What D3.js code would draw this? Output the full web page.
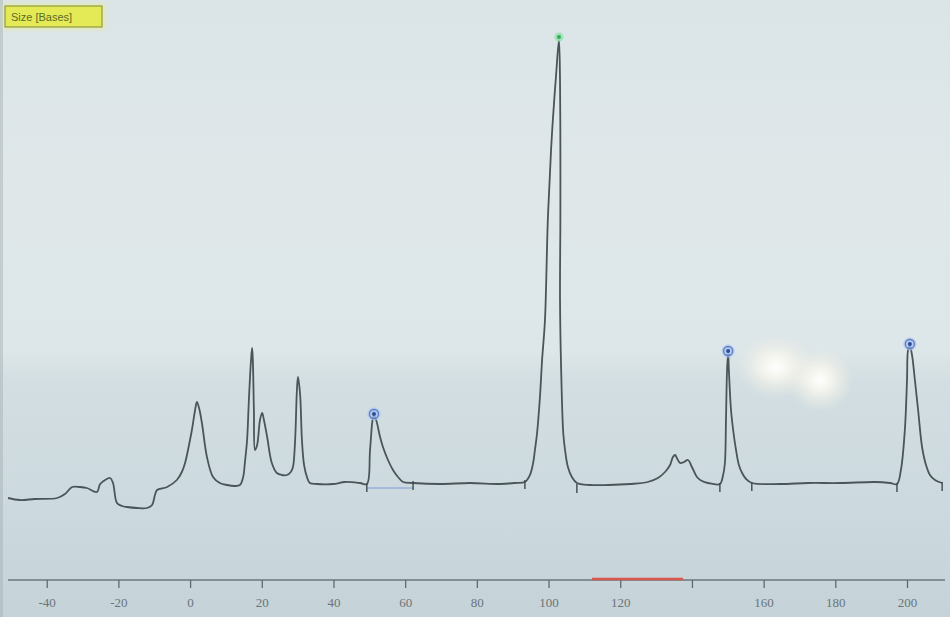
<!DOCTYPE html>
<html>
<head>
<meta charset="utf-8">
<script src="https://cdn.jsdelivr.net/npm/d3@7"></script>
<style>
  html, body { margin: 0; padding: 0; background: #d6e0e4; }
  svg { display: block; }
</style>
</head>
<body>
<svg id="chart" width="950" height="617"></svg>
<script>
// ---- data (size in bases, signal in relative units) ----
const traceSize = [-50.8,-47.5,-43.3,-37.1,-34.9,-32.9,-30.7,-28.8,-26.0,-25.1,-23.7,-22.3,-21.5,-20.4,-19.0,-17.6,-14.8,-12.0,-10.6,-9.8,-9.2,-6.4,-3.7,-2.3,-1.4,-0.3,0.5,1.4,1.9,2.5,3.3,4.7,6.4,8.3,10.3,12.5,13.9,14.8,15.3,15.9,16.4,17.0,17.3,17.5,17.8,18.1,18.7,19.5,20.1,20.6,21.5,22.8,24.2,25.6,27.0,28.1,28.7,29.3,29.8,30.1,30.7,31.2,31.8,32.6,33.4,35.4,39.9,43.2,47.4,49.3,50.2,51.0,51.3,51.9,53.0,53.8,55.2,56.6,58.0,59.4,62.2,69.7,78.1,86.5,90.6,93.4,94.8,95.7,96.2,96.8,97.6,98.2,99.0,99.8,100.7,101.2,102.1,102.9,103.2,103.3,103.3,103.2,103.5,104.1,104.6,105.4,106.5,107.9,111.6,116.6,122.7,127.7,130.5,132.5,133.9,134.7,135.3,135.8,136.7,137.8,138.9,140.0,141.4,142.8,144.5,147.8,148.7,149.2,149.5,149.8,150.1,150.3,150.9,151.5,152.3,153.1,154.0,155.1,156.7,164.6,172.4,181.3,191.1,195.3,197.2,198.3,199.4,200.0,200.3,200.8,201.4,202.2,203.1,204.2,205.3,206.4,207.8,209.8];
const traceSignal = [-10,-12,-11,-10,-6,1,1,0,-4,4,8,10,5,-15,-18,-19,-20,-20,-17,-7,-2,1,8,16,25,43,58,78,86,80,65,31,11,5,3,2,3,11,26,48,88,128,140,128,78,38,43,68,75,68,51,25,15,13,13,16,21,48,98,111,93,48,23,11,5,4,4,6,5,4,38,70,72,68,51,41,28,18,11,6,5,4,5,4,5,6,13,25,38,55,91,128,168,268,338,368,413,448,408,338,268,188,121,55,38,21,11,5,3,3,4,6,10,16,23,31,33,30,25,26,28,21,11,7,5,4,13,25,68,118,135,118,78,58,38,23,15,9,5,4,5,5,6,5,4,18,58,108,138,142,133,108,78,41,23,13,8,5];

// called peaks (blue rings) and the largest peak (green)
const peakSize   = [51.3, 150.1, 200.8];
const peakSignal = [74, 137, 144];
const topPeakSize = 102.9, topPeakSignal = 451;

// peak boundary marks
const boundarySize = [49.3, 62.2, 93.4, 107.9, 147.8, 156.7, 197.2, 209.8];
const boundarySignal = [2, 4, 5, 1, 2, 3, 2, 3];

// axis
const tickValues = [-40,-20,0,20,40,60,80,100,120,140,160,180,200];
const tickLabels = ["-40","-20","0","20","40","60","80","100","120","","160","180","200"];
const rangeBar = [112.1, 137.5];
const legendText = "Size [Bases]";

// ---- drawing ----
const svg = d3.select("#chart");
const W = 950, H = 617;

const defs = svg.append("defs");
const bg = defs.append("linearGradient").attr("id","bg").attr("x1",0).attr("y1",0).attr("x2",0).attr("y2",1);
[[0,"#dbe4e7"],[0.3,"#dfe7e9"],[0.57,"#dde6e8"],[0.62,"#d2dee2"],[0.85,"#cbd8dd"],[1,"#c5d2d8"]]
  .forEach(([o,c]) => bg.append("stop").attr("offset",o).attr("stop-color",c));
const glare = defs.append("radialGradient").attr("id","glare");
glare.append("stop").attr("offset",0).attr("stop-color","#ffffff").attr("stop-opacity",1);
glare.append("stop").attr("offset",0.35).attr("stop-color","#fdfaf0").attr("stop-opacity",0.75);
glare.append("stop").attr("offset",1).attr("stop-color","#f2efe2").attr("stop-opacity",0);
const blur = defs.append("filter").attr("id","soft").attr("x","-20%").attr("y","-20%").attr("width","140%").attr("height","140%");
blur.append("feGaussianBlur").attr("stdDeviation",0.5);
const glow = defs.append("filter").attr("id","glow").attr("x","-20%").attr("y","-50%").attr("width","140%").attr("height","200%");
glow.append("feGaussianBlur").attr("stdDeviation",2);

svg.append("rect").attr("width",W).attr("height",H).attr("fill","url(#bg)");
svg.append("rect").attr("x",0).attr("y",0).attr("width",3).attr("height",H).attr("fill","#a7b2b6").attr("opacity",0.5);

// glare spots
svg.append("ellipse").attr("cx",776).attr("cy",367).attr("rx",40).attr("ry",32).attr("fill","url(#glare)");
svg.append("ellipse").attr("cx",820).attr("cy",380).attr("rx",34).attr("ry",32).attr("fill","url(#glare)");

const x = d3.scaleLinear().domain([-50.8, 210.6]).range([8, 945]);
const y = d3.scaleLinear().domain([-60, 470]).range([548, 18]);

// baseline under first called peak
svg.append("line")
  .attr("x1", x(boundarySize[0])).attr("x2", x(boundarySize[1]))
  .attr("y1", y(0)).attr("y2", y(0))
  .attr("stroke","#7f9bd6").attr("stroke-width",1);

// trace
const pts = traceSize.map((s,i) => [s, traceSignal[i]]);
const line = d3.line().x(d => x(d[0])).y(d => y(d[1])).curve(d3.curveCatmullRom.alpha(0.5));
svg.append("path").datum(pts)
  .attr("d", line)
  .attr("fill","none")
  .attr("stroke","#4a5559")
  .attr("stroke-width",1.8)
  .attr("stroke-linejoin","round")
  .attr("filter","url(#soft)");

// boundary marks
svg.selectAll("line.bnd").data(boundarySize).join("line")
  .attr("class","bnd")
  .attr("x1", d => x(d)).attr("x2", d => x(d))
  .attr("y1", (d,i) => y(boundarySignal[i]) - 3)
  .attr("y2", (d,i) => y(boundarySignal[i]) + 6)
  .attr("stroke","#3f4a4e").attr("stroke-width",1.4);

// blue rings on called peaks
const rings = svg.selectAll("g.ring").data(peakSize).join("g").attr("class","ring")
  .attr("transform", (d,i) => `translate(${x(d)},${y(peakSignal[i])})`);
rings.append("circle").attr("r",6.5).attr("fill","#a9c2ec").attr("opacity",0.75);
rings.append("circle").attr("r",4.5).attr("fill","none").attr("stroke","#5a7fc8").attr("stroke-width",1.3);
rings.append("circle").attr("r",2).attr("fill","#2d4c98");

// green marker on largest peak
svg.append("circle").attr("cx", x(topPeakSize)).attr("cy", y(topPeakSignal))
  .attr("r",4.5).attr("fill","#8fe3a8").attr("opacity",0.8);
svg.append("circle").attr("cx", x(topPeakSize)).attr("cy", y(topPeakSignal))
  .attr("r",2).attr("fill","#3aa860");

// axis
const axisY = 580;
const axis = d3.axisBottom(x).tickValues(tickValues).tickSize(8).tickPadding(10)
  .tickFormat((d,i) => tickLabels[i]);
const gAxis = svg.append("g").attr("transform",`translate(0,${axisY})`).call(axis);
gAxis.select(".domain").attr("d", `M8,0H945`).attr("stroke","#6b777b").attr("stroke-width",1.3);
gAxis.selectAll(".tick line").attr("stroke","#5f6a6e").attr("stroke-width",1.3);
gAxis.selectAll(".tick text").attr("fill","#6a7478")
  .attr("font-family","Liberation Serif, DejaVu Serif, serif").attr("font-size",13);

// red range bar
svg.append("line").attr("x1",x(rangeBar[0])).attr("x2",x(rangeBar[1]))
  .attr("y1",axisY-1).attr("y2",axisY-1)
  .attr("stroke","#f2a4a0").attr("stroke-width",6).attr("filter","url(#glow)");
svg.append("line").attr("x1",x(rangeBar[0])).attr("x2",x(rangeBar[1]))
  .attr("y1",axisY-1).attr("y2",axisY-1)
  .attr("stroke","#d8584e").attr("stroke-width",2.6);

// legend label box
const lg = svg.append("g").attr("transform","translate(5,6)");
lg.append("rect").attr("x",-2).attr("y",-2).attr("width",102).attr("height",25)
  .attr("fill","#eef37a").attr("opacity",0.6).attr("filter","url(#glow)");
lg.append("rect").attr("width",97).attr("height",21)
  .attr("fill","#e4ea55").attr("stroke","#7d8a3a").attr("stroke-width",1);
lg.append("text").attr("x",6).attr("y",15)
  .attr("font-family","Liberation Sans, Arial, sans-serif").attr("font-size",11)
  .attr("fill","#5a6b2a").text(legendText);
</script>
</body>
</html>
